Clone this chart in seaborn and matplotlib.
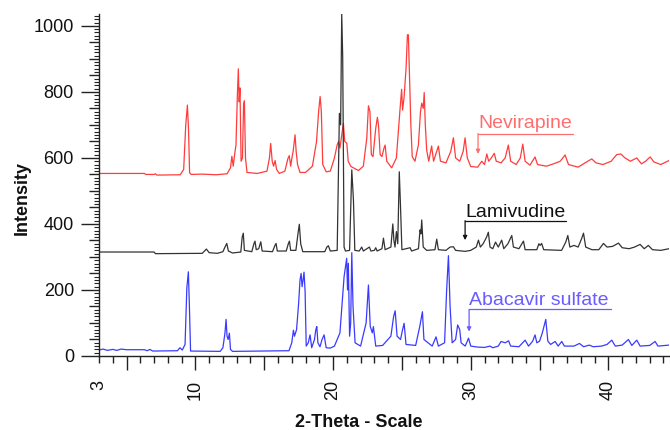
import matplotlib
matplotlib.use("Agg")
import matplotlib.pyplot as plt
import seaborn as sns
import numpy as np

# ---------------- data ----------------
nev_x = [3.0, 6.3, 6.4, 7.0, 7.1, 7.2, 8.9, 9.15, 9.3, 9.42, 9.5, 9.58, 9.7, 10.5, 11.5, 12.3,
         12.55, 12.65, 12.75, 12.85, 12.95, 13.05, 13.12, 13.18, 13.24, 13.32, 13.42, 13.5, 13.56,
         13.64, 13.75, 14.5, 15.2, 15.38, 15.47, 15.58, 15.68, 15.79, 15.9, 16.1, 16.5, 16.72,
         16.82, 16.92, 17.0, 17.1, 17.24, 17.32, 17.42, 17.6, 18.0, 18.5, 18.8, 18.95, 19.06,
         19.15, 19.25, 19.5, 19.8, 20.1, 20.3, 20.4, 20.5, 20.6, 20.75, 20.85, 21.0, 21.1, 21.3,
         21.84, 22.2, 22.45, 22.57, 22.68, 22.78, 22.9, 23.1, 23.22, 23.3, 23.42, 23.55, 23.7,
         23.78, 23.9, 24.26, 24.6, 24.85, 24.98, 25.05, 25.15, 25.3, 25.4, 25.47, 25.55, 25.65,
         25.75, 25.95, 26.2, 26.35, 26.44, 26.55, 26.62, 26.7, 26.8, 26.95, 27.16, 27.3, 27.45,
         27.65, 27.8, 28.2, 28.55, 28.74, 28.9, 29.2, 29.45, 29.59, 29.75, 30.0, 30.5, 30.8,
         31.0, 31.17, 31.3, 31.5, 31.71, 31.85, 32.2, 32.5, 32.73, 32.9, 33.3, 33.6, 33.78,
         33.95, 34.3, 34.67, 34.85, 35.5, 36.0, 36.5, 36.85, 37.1, 37.8, 38.3, 38.79, 39.1,
         39.6, 40.2, 40.6, 40.9, 41.2, 41.6, 42.06, 42.4, 42.7, 43.03, 43.3, 43.8, 44.4]
nev_y = [553, 553, 550, 550, 552, 548, 549, 565, 700, 760, 690, 555, 550, 551, 549, 552,
         570, 605, 575, 610, 640, 790, 870, 770, 812, 590, 600, 760, 773,
         600, 556, 553, 560, 600, 644, 590, 575, 592, 565, 553, 560, 598,
         607, 575, 597, 620, 670, 620, 580, 556, 556, 575, 650, 740, 786,
         740, 580, 558, 560, 600, 640, 650, 630, 660, 705, 650, 644, 590, 574,
         562, 575, 660, 758, 740, 610, 604, 690, 723, 700, 610, 604, 630,
         639, 590, 570, 600, 740, 808, 745, 780, 870, 973, 973, 846, 700,
         604, 590, 640, 740, 766, 750, 798, 700, 624, 590, 636, 590, 610,
         636, 590, 585, 620, 661, 600, 590, 620, 661, 600, 574, 572, 590,
         580, 612, 590, 600, 614, 590, 585, 600, 639, 590, 580, 600, 642,
         590, 578, 603, 580, 575, 582, 590, 609, 580, 572, 585, 597, 585,
         580, 590, 610, 612, 600, 590, 600, 582, 590, 603, 588, 580, 592]

lam_x = [3.0, 7.0, 7.1, 10.5, 10.8, 11.0, 11.6, 12.0, 12.15, 12.28, 12.4, 12.7, 13.3, 13.4,
         13.48, 13.56, 14.1, 14.25, 14.33, 14.42, 14.6, 14.75, 14.85, 15.6, 15.78, 15.86, 15.95,
         16.6, 16.75, 16.83, 16.92, 17.3, 17.45, 17.55, 17.65, 17.8, 19.4, 19.55, 19.66, 19.8,
         20.3, 20.46, 20.55, 20.63, 20.70, 20.8, 20.9, 21.2, 21.3, 21.36, 21.48, 21.58, 21.9,
         22.08, 22.2, 22.64, 22.75, 23.0, 23.1, 23.2, 23.55, 23.66, 23.78, 24.2, 24.34, 24.42,
         24.5, 24.6, 24.7, 24.81, 24.9, 25.0, 25.6, 25.7, 26.2, 26.32, 26.38, 26.44, 26.55,
         26.8, 27.4, 27.53, 27.65, 28.2, 28.5, 28.74, 28.9, 29.4, 29.59, 30.0, 30.4, 30.56,
         30.7, 30.9, 31.15, 31.28, 31.4, 31.6, 31.8, 32.0, 32.25, 32.4, 32.7, 32.98, 33.1,
         33.5, 33.83, 33.95, 34.8, 34.95, 35.04, 35.15, 35.3, 36.6, 36.9, 37.05, 37.2, 37.5,
         37.8, 38.05, 38.19, 38.35, 38.8, 39.3, 39.64, 39.9, 40.3, 40.73, 41.0, 41.5, 41.9,
         42.3, 42.6, 42.9, 43.2, 43.8, 44.4]
lam_y = [315, 315, 310, 311, 324, 313, 311, 316, 330, 341, 318, 312, 315, 360,
         372, 320, 316, 340, 348, 322, 325, 346, 318, 316, 335, 341, 318,
         318, 340, 348, 320, 320, 370, 399, 340, 316, 316, 330, 334, 318,
         320, 735, 700, 1036, 907, 330, 318, 320, 480, 564, 473, 320, 318,
         330, 318, 330, 318, 320, 328, 318, 325, 357, 322, 330, 400, 350,
         330, 377, 340, 558, 452, 322, 328, 318, 325, 382, 370, 412, 330,
         320, 322, 354, 322, 320, 330, 331, 320, 318, 317, 320, 330, 351,
         330, 340, 360, 375, 330, 325, 345, 330, 351, 325, 340, 365, 330,
         325, 348, 322, 322, 340, 335, 341, 322, 320, 345, 365, 330, 335,
         330, 355, 372, 330, 322, 322, 341, 330, 332, 342, 328, 325, 330,
         338, 325, 335, 322, 320, 325]

aba_x = [3.0, 3.3, 3.6, 4.0, 4.3, 4.6, 5.0, 6.3, 6.5, 6.7, 6.9, 8.7, 8.88, 9.05, 9.25, 9.38,
         9.49, 9.56, 9.65, 11.8, 12.0, 12.15, 12.23, 12.3, 12.38, 12.47, 12.55, 12.7, 16.8,
         17.0, 17.12, 17.2, 17.35, 17.5, 17.6, 17.68, 17.75, 17.82, 17.89, 17.97, 18.05, 18.2,
         18.33, 18.45, 18.65, 18.75, 18.82, 18.9, 19.05, 19.2, 19.35, 19.5, 19.8, 20.1, 20.5,
         20.8, 20.99, 21.05, 21.11, 21.2, 21.28, 21.36, 21.45, 21.6, 22.0, 22.4, 22.57, 22.7,
         22.85, 22.93, 23.1, 23.6, 24.2, 24.4, 24.51, 24.65, 24.9, 25.05, 25.16, 25.3, 26.0,
         26.3, 26.49, 26.6, 27.2, 27.48, 27.65, 28.1, 28.25, 28.38, 28.5, 28.65, 28.9, 29.05,
         29.2, 29.3, 29.6, 29.84, 30.0, 30.5, 31.0, 31.4, 31.6, 32.0, 32.2, 32.5, 32.75, 32.9,
         33.5, 33.95, 34.2, 34.5, 34.67, 34.8, 35.0, 35.2, 35.45, 35.6, 35.8, 36.13, 36.35,
         36.61, 36.8, 37.5, 37.9, 38.2, 38.6, 38.9, 39.5, 39.9, 40.24, 40.5, 41.0, 41.45, 41.7,
         42.06, 42.3, 43.0, 43.39, 43.6, 44.4]
aba_y = [18, 21, 17, 20, 17, 21, 19, 19, 16, 20, 15, 16, 25, 18, 35, 206,
         255, 160, 15, 14, 25, 70, 111, 60, 50, 69, 20, 14, 16,
         40, 78, 60, 80, 160, 230, 250, 210, 230, 254, 195, 30, 40,
         64, 25, 50, 80, 89, 40, 28, 50, 64, 25, 24, 30, 70,
         240, 296, 200, 281, 60, 100, 313, 150, 40, 30, 100, 215, 90,
         70, 89, 30, 32, 60, 120, 137, 60, 50, 80, 99, 35, 32,
         90, 134, 50, 30, 58, 30, 40, 200, 304, 150, 40, 50, 94,
         80, 40, 30, 54, 30, 27, 26, 30, 25, 30, 44, 40, 46, 30,
         28, 48, 30, 45, 64, 40, 45, 70, 111, 45, 35, 44, 30,
         44, 30, 30, 38, 28, 33, 28, 30, 35, 48, 30, 33, 50, 32,
         48, 30, 32, 44, 30, 33]

labels = ["Nevirapine", "Lamivudine", "Abacavir sulfate"]
# label anchor (2-theta), text baseline, underline level, underline end, arrow tip
label_x = [30.53, 29.59, 29.88]
label_base = [690, 422, 154]
label_line = [674, 410, 141]
label_end = [37.43, 36.9, 40.2]
label_tip = [612, 351, 74]

x_ticklabels = [3, 10, 20, 30, 40]
y_ticklabels = [0, 200, 400, 600, 800, 1000]

line_colors = ["#ff3c3c", "#333333", "#3a3aff"]
text_colors = ["#ff6e6e", "#111111", "#6a5cff"]

# ---------------- figure ----------------
sns.set_style("ticks")
plt.rcParams["font.family"] = ["Liberation Sans", "DejaVu Sans"]

fig = plt.figure(figsize=(6.7, 4.3), dpi=100)
ax = fig.add_axes([99 / 670, 1 - 356 / 430, 570 / 670, 342 / 430])

for xs, ys, c in zip([nev_x, lam_x, aba_x], [nev_y, lam_y, aba_y], line_colors):
    sns.lineplot(x=xs, y=ys, ax=ax, color=c, lw=0.9, estimator=None, sort=False)

for lab, lx, lb, ll, le, lt, tc in zip(labels, label_x, label_base, label_line,
                                        label_end, label_tip, text_colors):
    ax.text(lx, lb, lab, color=tc, fontsize=14, ha="left", va="baseline")
    ax.plot([lx, le], [ll, ll], color=tc, lw=0.9)
    ax.annotate("", xy=(lx, lt), xytext=(lx, ll),
                arrowprops=dict(arrowstyle="-|>", color=tc, lw=0.9,
                                mutation_scale=6, shrinkA=0, shrinkB=0))

ax.set_xlim(3.0, 44.4)
ax.set_ylim(0, 1036)

for s in ["top", "right"]:
    ax.spines[s].set_visible(False)
for s in ["left", "bottom"]:
    ax.spines[s].set_color("#222222")
    ax.spines[s].set_linewidth(1.0)

# x ticks
xmaj = [3] + list(range(5, 45, 5))
ax.set_xticks(xmaj)
ax.set_xticklabels([str(v) if v in x_ticklabels else "" for v in xmaj],
                   rotation=90, fontsize=13, color="#111111")
ax.set_xticks(range(3, 45), minor=True)
ax.tick_params(axis="x", which="major", length=10, width=1, pad=7, color="#222222")
ax.tick_params(axis="x", which="minor", length=5, width=1, color="#222222")
ax.xaxis.get_major_ticks()[0].tick1line.set_markersize(5)

# y ticks
ymaj = list(range(0, 1001, 50))
ax.set_yticks(ymaj)
ax.set_yticklabels([str(v) if v in y_ticklabels else "" for v in ymaj],
                   fontsize=13, color="#111111")
ax.set_yticks(range(0, 1031, 10), minor=True)
ax.tick_params(axis="y", which="major", length=13, width=1, pad=5, color="#222222")
ax.tick_params(axis="y", which="minor", length=3.6, width=0.8, color="#222222")
for t, v in zip(ax.yaxis.get_major_ticks(), ymaj):
    if v not in y_ticklabels:
        t.tick1line.set_markersize(7.2)

ax.set_xlabel("2-Theta - Scale", fontsize=13, fontweight="bold", color="#111111")
ax.set_ylabel("Intensity", fontsize=13, fontweight="bold", color="#111111")
ax.xaxis.set_label_coords(0.456, -0.193)
ax.xaxis.label.set_va("center")
ax.yaxis.set_label_coords(-0.135, 0.462)
ax.yaxis.label.set_va("center")

fig.savefig("out.png", dpi=100)
